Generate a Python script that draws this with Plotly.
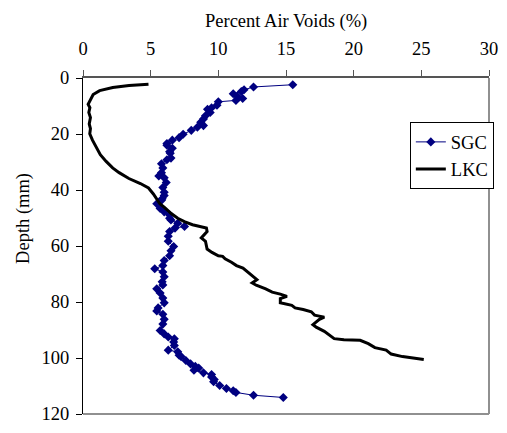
import plotly.graph_objects as go

# SGC specimen: air voids (%) versus depth (mm)
sgc_depth = [2.4, 3.2, 4.2, 4.8, 5.6, 6.5, 7.3, 8.0, 8.5, 9.7, 10.6, 11.2, 12.3, 13.5,
             14.6, 15.8, 17.0, 17.6, 18.7, 20.1, 21.3, 22.2, 23.4, 24.0, 25.1, 26.3,
             26.9, 28.6, 29.2, 30.6, 32.1, 33.8, 35.0, 35.6, 37.3, 39.1, 40.8, 42.0,
             43.1, 43.7, 44.9, 46.6, 47.8, 48.9, 50.1, 50.7, 51.9, 53.0, 53.6, 54.8,
             56.5, 58.3, 60.2, 61.7, 63.5, 65.2, 67.0, 68.1, 69.3, 71.0, 72.8, 73.9,
             75.3, 76.8, 78.6, 80.3, 82.1, 83.2, 84.4, 86.2, 87.9, 90.2, 91.4, 92.5,
             93.1, 94.3, 95.5, 97.2, 97.8, 99.0, 99.5, 100.9, 102.1, 103.0, 103.6,
             104.4, 105.3, 105.9, 106.8, 107.7, 108.5, 109.8, 110.9, 111.7, 112.3,
             113.3, 114.1]
sgc_voids = [15.5, 12.6, 11.9, 11.7, 11.1, 11.4, 11.8, 11.3, 10.0, 9.9, 9.5, 9.2, 9.4, 9.05,
             8.9, 8.7, 8.9, 8.45, 8.0, 7.4, 7.1, 6.6, 6.2, 6.2, 6.6, 6.4,
             6.45, 6.5, 6.2, 5.8, 5.9, 5.8, 5.6, 6.0, 6.15, 5.9, 6.0, 6.0,
             5.85, 5.8, 5.45, 5.7, 6.0, 6.4, 6.4, 6.5, 7.0, 7.5, 6.8, 6.4,
             6.3, 6.3, 6.7, 6.5, 6.4, 6.0, 5.9, 5.3, 5.9, 6.0, 5.85, 5.9,
             5.45, 5.7, 5.9, 6.0, 5.55, 5.45, 5.9, 6.0, 5.9, 5.7, 6.0, 6.3,
             6.75, 6.7, 6.75, 6.3, 7.0, 7.1, 7.25, 7.6, 7.95, 8.3, 8.55,
             8.2, 8.9, 9.5, 9.5, 9.7, 9.65, 10.1, 10.6, 11.1, 11.3,
             12.6, 14.8]

# LKC specimen: air voids (%) versus depth (mm)
lkc_depth = [2.2, 2.7, 3.4, 4.5, 5.9, 8.3, 9.4, 10.6, 12.3, 14.1, 16.4, 18.1, 19.9, 22.2,
             24.5, 27.4, 29.8, 32.1, 33.8, 35.9, 37.7, 39.3, 41.4, 43.1, 44.9, 46.3,
             48.4, 50.1, 51.3, 52.4, 53.0, 53.6, 54.8, 57.1, 58.3, 61.1, 62.3, 63.5,
             63.7, 64.6, 65.8, 67.0, 67.9, 69.3, 70.8, 72.0, 73.2, 74.0, 75.3, 76.5,
             77.2, 78.0, 78.8, 80.3, 81.2, 82.1, 82.7, 83.5, 84.7, 85.4, 86.2, 88.1,
             89.0, 90.5, 93.1, 93.5, 93.7, 94.9, 96.3, 97.2, 98.6, 99.5, 100.5]
lkc_voids = [4.84, 3.4, 2.2, 1.23, 0.75, 0.46, 0.38, 0.51, 0.43, 0.55, 0.46, 0.55, 0.5, 0.7,
             0.94, 1.28, 1.71, 2.19, 2.67, 3.39, 4.24, 4.84, 5.2, 5.44, 5.68, 6.04,
             6.52, 7.0, 7.49, 8.09, 8.57, 9.12, 9.17, 8.74, 9.05, 9.17, 9.53, 10.0,
             10.32, 10.5, 10.97, 11.34, 11.82, 12.18, 12.6, 12.85, 12.5, 12.8, 13.5, 13.98,
             14.58, 15.07, 14.58, 14.58, 15.43, 15.67, 16.27, 16.87, 17.11, 17.83, 17.47, 16.99,
             17.23, 17.83, 18.56, 19.28, 20.48, 21.08, 21.57, 22.4, 22.77, 23.61, 25.18]

x_ticks = [0, 5, 10, 15, 20, 25, 30]
y_ticks = [0, 20, 40, 60, 80, 100, 120]

FONT = "Liberation Serif, Times New Roman, serif"
NAVY = "#000080"
FS = 18.5

fig = go.Figure()
fig.add_trace(go.Scatter(
    x=sgc_voids, y=sgc_depth, name="SGC", mode="lines+markers",
    line=dict(color=NAVY, width=1),
    marker=dict(symbol="diamond", size=7, color=NAVY),
))
fig.add_trace(go.Scatter(
    x=lkc_voids, y=lkc_depth, name="LKC", mode="lines",
    line=dict(color="black", width=3),
))

fig.update_layout(
    width=507, height=433,
    margin=dict(l=83, r=9, t=78, b=11),
    paper_bgcolor="white", plot_bgcolor="white",
    font=dict(family=FONT, size=FS, color="black"),
    showlegend=True,
    legend=dict(
        x=0.805, y=0.868, xanchor="left", yanchor="top",
        bordercolor="black", borderwidth=1, bgcolor="white",
        font=dict(family=FONT, size=FS), itemwidth=30,
        tracegroupgap=0,
    ),
    xaxis=dict(
        side="top", range=[0, 30], tickvals=x_ticks, showgrid=False, zeroline=False,
        showline=True, linecolor="#555555", linewidth=2,
        ticks="outside", ticklen=6, tickcolor="#555555", tickwidth=1,
        ticklabelstandoff=8, ticklabeloverflow="allow",
    ),
    yaxis=dict(
        range=[120, 0], tickvals=y_ticks, showgrid=False, zeroline=False,
        showline=True, linecolor="black", linewidth=1,
        ticks="outside", ticklen=6, tickcolor="black", tickwidth=1,
        ticklabelstandoff=3, ticklabeloverflow="allow",
    ),
    shapes=[
        dict(type="line", xref="paper", yref="paper", x0=1, x1=1, y0=0, y1=1,
             line=dict(color="#909090", width=2)),
        dict(type="line", xref="paper", yref="paper", x0=0, x1=1, y0=0, y1=0,
             line=dict(color="#909090", width=2)),
    ],
    annotations=[
        dict(text="Percent Air Voids (%)", xref="paper", yref="paper",
             x=0.5, y=1.169, xanchor="center", yanchor="middle", showarrow=False,
             font=dict(family=FONT, size=FS)),
        dict(text="Depth (mm)", xref="paper", yref="paper", textangle=-90,
             x=-0.145, y=0.581, xanchor="center", yanchor="middle", showarrow=False,
             font=dict(family=FONT, size=FS)),
    ],
)

fig.write_html("out.html")
